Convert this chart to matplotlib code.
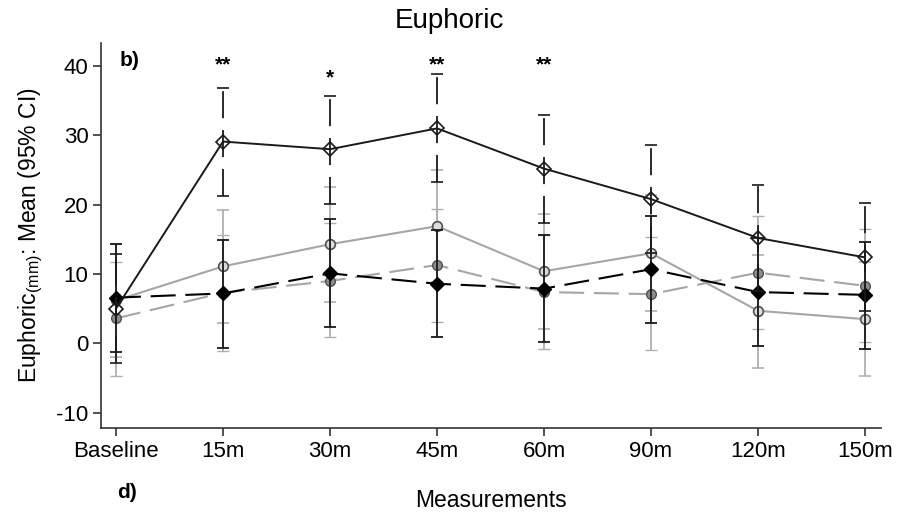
import numpy as np
import matplotlib.pyplot as plt

plt.rcParams['font.family'] = ['Liberation Sans', 'DejaVu Sans']
plt.rcParams['lines.scale_dashes'] = False

labels = ['Baseline', '15m', '30m', '45m', '60m', '90m', '120m', '150m']

# black solid, open diamond
a_mean = [5.0, 29.1, 28.0, 31.0, 25.2, 20.8, 15.2, 12.4]
a_lo = [-2.8, 21.3, 20.1, 23.3, 17.4, 13.0, 7.5, 4.6]
a_hi = [12.9, 36.8, 35.7, 38.9, 33.0, 28.6, 22.9, 20.3]

# grey solid, open circle
b_mean = [6.2, 11.1, 14.3, 16.9, 10.4, 13.0, 4.7, 3.5]
b_lo = [-1.9, 3.0, 6.0, 8.8, 2.1, 4.6, -3.5, -4.7]
b_hi = [14.3, 19.2, 22.5, 25.0, 18.6, 21.4, 12.8, 11.7]

# black dashed, filled diamond
c_mean = [6.6, 7.2, 10.1, 8.6, 7.9, 10.7, 7.4, 7.0]
c_lo = [-1.2, -0.6, 2.3, 0.9, 0.2, 3.0, -0.4, -0.8]
c_hi = [14.3, 14.9, 17.9, 16.3, 15.6, 18.4, 15.2, 14.6]

# grey dashed, filled circle
d_mean = [3.6, 7.3, 9.0, 11.3, 7.4, 7.1, 10.2, 8.3]
d_lo = [-4.7, -1.1, 0.9, 3.1, -0.8, -1.0, 2.1, 0.2]
d_hi = [11.8, 15.7, 17.4, 19.4, 15.6, 15.3, 18.4, 16.5]

stars = ['', '**', '*', '**', '**', '', '', '']
star_y = [0, 40.2, 38.3, 40.2, 40.2, 0, 0, 0]

x = np.arange(len(labels))

fig = plt.figure(figsize=(9.14, 5.19), dpi=100)
ax = fig.add_axes([0.1105, 0.1753, 0.8535, 0.7417])


def err(m, lo, hi):
    m = np.array(m)
    return [m - np.array(lo), np.array(hi) - m]


dash = (0, (18, 7))

ax.errorbar(x, b_mean, yerr=err(b_mean, b_lo, b_hi), color='#a6a6a6', lw=1.5,
            ecolor='#b0b0b0', elinewidth=1.3, capsize=4.5, capthick=1.3,
            marker='o', ms=7, mfc='#dcdcdc', mec='#505050', mew=1.2, zorder=2)
ax.errorbar(x, d_mean, yerr=err(d_mean, d_lo, d_hi), color='#a6a6a6', lw=1.5,
            ls=dash, ecolor='#b0b0b0', elinewidth=1.3, capsize=4.5, capthick=1.3,
            marker='o', ms=7, mfc='#8c8c8c', mec='#505050', mew=1.0, zorder=2)
ax.errorbar(x, c_mean, yerr=err(c_mean, c_lo, c_hi), color='black', lw=1.5,
            ls=dash, ecolor='#1a1a1a', elinewidth=1.3, capsize=4.5, capthick=1.3,
            marker='D', ms=7.5, mfc='black', mec='black', zorder=3)
res = ax.errorbar(x, a_mean, yerr=err(a_mean, a_lo, a_hi), color='#1a1a1a', lw=1.4,
                  ecolor='#1a1a1a', elinewidth=1.3, capsize=4.5, capthick=1.3,
                  marker='D', ms=7, mfc='none', mec='#1a1a1a', mew=1.2, zorder=4)
res[2][0].set_linestyle((0, (19.5, 8.5)))

for xi, s, yv in zip(x, stars, star_y):
    if s:
        ax.text(xi, yv, s, ha='center', va='center', fontsize=15, fontweight='bold')

ax.text(0.024, 0.955, 'b)', transform=ax.transAxes, fontsize=15, fontweight='bold',
        va='center')
fig.text(0.128, 0.052, 'd)', fontsize=15, fontweight='bold', va='center')

ax.set_xlim(-0.14, 7.15)
ax.set_ylim(-12.2, 43.3)
ax.set_xticks(x)
ax.set_xticklabels(labels, fontsize=16)
ax.set_yticks([-10, 0, 10, 20, 30, 40])
ax.set_yticklabels(['-10', '0', '10', '20', '30', '40'], fontsize=16)
ax.tick_params(direction='out', length=6, width=1.2, color='#333333', pad=3)
for side in ['top', 'right']:
    ax.spines[side].set_visible(False)
for side in ['left', 'bottom']:
    ax.spines[side].set_linewidth(1.2)
    ax.spines[side].set_color('#333333')

ax.set_xlabel('Measurements', fontsize=16.5, labelpad=20)
ax.set_ylabel('Euphoric$_{\\mathregular{(mm)}}$: Mean (95% CI)', fontsize=16.5, labelpad=8)
fig.suptitle('Euphoric', fontsize=20, x=0.492, y=0.985)

fig.savefig('out.png', dpi=100)
